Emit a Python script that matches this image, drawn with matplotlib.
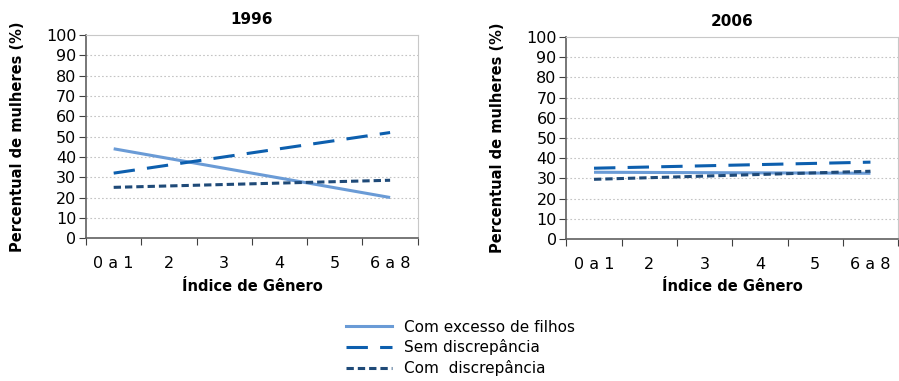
import matplotlib
matplotlib.use('Agg')
import matplotlib.pyplot as plt
from matplotlib.lines import Line2D

# categories of the gender index
categorias = ['0 a 1', '2', '3', '4', '5', '6 a 8']

# values (% of women)
excesso_1996 = [44, 39.2, 34.4, 29.6, 24.8, 20]
sem_disc_1996 = [32, 36, 40, 44, 48, 52]
com_disc_1996 = [25, 25.7, 26.4, 27.1, 27.8, 28.5]

excesso_2006 = [33, 32.9, 32.8, 32.7, 32.6, 32.5]
sem_disc_2006 = [35, 35.6, 36.2, 36.8, 37.4, 38]
com_disc_2006 = [29.5, 30.3, 31.1, 31.9, 32.7, 33.5]

anos = ['1996', '2006']

cor_excesso = '#6a9bd6'
cor_sem = '#0d5fae'
cor_com = '#1f4a78'

plt.rcParams['font.family'] = 'DejaVu Sans'

fig = plt.figure(figsize=(8.99, 3.81), dpi=100)
ax1 = fig.add_axes([0.0957, 0.375, 0.369, 0.533])
ax2 = fig.add_axes([0.630, 0.373, 0.369, 0.530])

series = [
    (ax1, anos[0], excesso_1996, sem_disc_1996, com_disc_1996),
    (ax2, anos[1], excesso_2006, sem_disc_2006, com_disc_2006),
]

x = list(range(len(categorias)))

for ax, ano, exc, sem, com in series:
    ax.plot(x, exc, color=cor_excesso, lw=2.2, solid_capstyle='butt')
    ax.plot(x, sem, color=cor_sem, lw=2.2, dashes=(7, 4))
    ax.plot(x, com, color=cor_com, lw=2.2, dashes=(2.4, 1.3))

    ax.set_xlim(-0.5, len(categorias) - 0.5)
    ax.set_ylim(0, 100)
    ax.set_yticks(range(0, 101, 10))
    ax.set_xticks([i - 0.5 for i in range(len(categorias) + 1)])
    ax.set_xticklabels([])
    ax.set_xticks(x, minor=True)
    ax.set_xticklabels(categorias, minor=True)
    ax.tick_params(axis='x', which='minor', length=0, pad=13, labelsize=11.5)
    ax.tick_params(axis='x', which='major', length=5, direction='out', color='#404040')
    ax.tick_params(axis='y', length=5, direction='out', labelsize=11.5, pad=2, color='#404040')

    for yv in range(10, 100, 10):
        ax.axhline(yv, color='#c4c4c4', lw=0.8, ls=(0, (1.5, 2)), zorder=0)

    ax.spines['left'].set_color('#606060')
    ax.spines['bottom'].set_color('#606060')
    ax.spines['left'].set_linewidth(1.2)
    ax.spines['bottom'].set_linewidth(1.2)
    ax.spines['top'].set_color('#c8c8c8')
    ax.spines['right'].set_color('#c8c8c8')

    ax.set_title(ano, fontsize=11, fontweight='bold', pad=8)
    ax.set_ylabel('Percentual de mulheres (%)', fontsize=10.5, fontweight='bold')
    ax.yaxis.set_label_coords(-0.185, 0.5)
    ax.set_xlabel('Índice de Gênero', fontsize=10.5, fontweight='bold')
    ax.xaxis.set_label_coords(0.5, -0.2)

handles = [
    Line2D([], [], color=cor_excesso, lw=2.2),
    Line2D([], [], color=cor_sem, lw=2.2, dashes=(7, 4)),
    Line2D([], [], color=cor_com, lw=2.2, dashes=(2.4, 1.3)),
]
labels = ['Com excesso de filhos', 'Sem discrepância', 'Com  discrepância']
fig.legend(handles, labels, loc='center', bbox_to_anchor=(0.512, 0.087),
           frameon=False, fontsize=11, handlelength=3.0, labelspacing=0.3,
           handletextpad=0.8)

fig.savefig('out.png', dpi=100)
